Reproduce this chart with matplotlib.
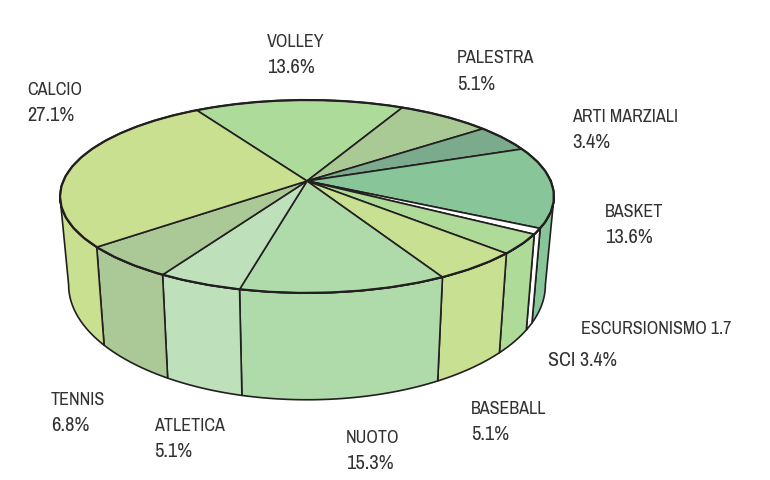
from matplotlib import font_manager
from matplotlib.patches import Polygon
import matplotlib.pyplot as plt
import numpy as np

noms = ["VOLLEY", "PALESTRA", "ARTI MARZIALI", "BASKET", "ESCURSIONISMO", "SCI",
        "BASEBALL", "NUOTO", "ATLETICA", "TENNIS", "CALCIO"]
valeurs = ["13.6%", "5.1%", "3.4%", "13.6%", "1.7", "3.4%",
           "5.1%", "15.3%", "5.1%", "6.8%", "27.1%"]
# Angles as drawn in the picture: they do not follow the printed percentages exactly
balayages = [57.6, 25.8, 16.5, 48.9, 3.5, 12.0, 18.2, 42.0, 17.2, 20.1, 98.2]
couleurs = ["#ADDB9A", "#A9C995", "#7BAA8C", "#88C598", "#FFFFFF", "#AEDB98",
            "#C8E091", "#AEDBA9", "#BEE1BC", "#ABC996", "#C8E090"]

# Label anchors in pixels (x, name line, value line), None = on one line
pos_labels = [(268, 47, 73), (458, 63, 90), (573, 122, 148), (606, 217, 243),
              (581, 334, None), (548, 366, None), (472, 414, 440), (347, 443, 469),
              (155, 431, 457), (52, 405, 431), (28, 95, 121)]

angle_depart = 121.0
noir = "#231F20"

# Narrowest face available, the reference uses a condensed grotesque
installees = {f.name for f in font_manager.fontManager.ttflist}
police = "Roboto"
for nom_police in sorted(installees):
    if "Narrow" in nom_police or "Condensed" in nom_police:
        police = nom_police
        break


def dessus(angles):
    """ Top face: unit circle seen in perspective, hub stays at (307, 181) """
    u, v = np.cos(angles), np.sin(angles)
    w = 1 + 0.1606 * v
    return 307 + 243.8 * u / w, 181 - 94 * v / w


def dessous(angles):
    """ Bottom rim: slightly narrower and rounder than the top one """
    x, y = dessus(angles)
    return 307 + 0.965 * (x - 307), 181 + 85.5 + 1.19 * (y - 181)


def arc(debut, fin):
    return np.radians(np.linspace(debut, fin, 60))


fig = plt.figure(figsize=(7.7, 4.8), dpi=100)
ax = fig.add_axes([0, 0, 1, 1])
ax.set_xlim(0, 770)
ax.set_ylim(480, 0)
ax.axis("off")

bords = angle_depart - np.concatenate([[0], np.cumsum(balayages)])
droite, gauche = -9.2, -170.8  # silhouette of the cylinder

# Side walls first
for i, couleur in enumerate(couleurs):
    debut = min(bords[i], droite)
    fin = max(bords[i + 1], gauche)
    if debut <= fin:
        continue  # back of the pie
    angles = arc(debut, fin)
    xh, yh = dessus(angles)
    xb, yb = dessous(angles)
    points = np.column_stack([np.r_[xh, xb[::-1]], np.r_[yh, yb[::-1]]])
    ax.add_patch(Polygon(points, closed=True, facecolor=couleur, edgecolor=noir,
                         linewidth=1.2, joinstyle="round"))

# Top face
for i, couleur in enumerate(couleurs):
    x, y = dessus(arc(bords[i], bords[i + 1]))
    points = np.column_stack([np.r_[307, x], np.r_[181, y]])
    ax.add_patch(Polygon(points, closed=True, facecolor=couleur, edgecolor=noir,
                         linewidth=1.2, joinstyle="round"))

x, y = dessus(arc(0, 360))
ax.plot(x, y, color=noir, linewidth=1.6)

# Font size so that the long label spans the same 151 px as in the reference
essai = ax.text(0, 0, "ESCURSIONISMO 1.7", family=police, fontsize=10)
largeur = essai.get_window_extent(fig.canvas.get_renderer()).width
essai.remove()
taille = 10 * 151 / largeur

for nom, valeur, (px, py1, py2) in zip(noms, valeurs, pos_labels):
    style = dict(family=police, color="#333132", ha="left", va="baseline")
    if py2 is None:
        # the long label sets the size, the short one is a little larger
        facteur = 1.0 if nom == "ESCURSIONISMO" else 1.1
        ax.text(px, py1, nom + " " + valeur, fontsize=taille * facteur, **style)
    else:
        ax.text(px - 1, py1, nom, fontsize=taille, **style)
        ax.text(px - 1, py2, valeur, fontsize=taille * 1.13, **style)

fig.savefig("out.png", dpi=100)
